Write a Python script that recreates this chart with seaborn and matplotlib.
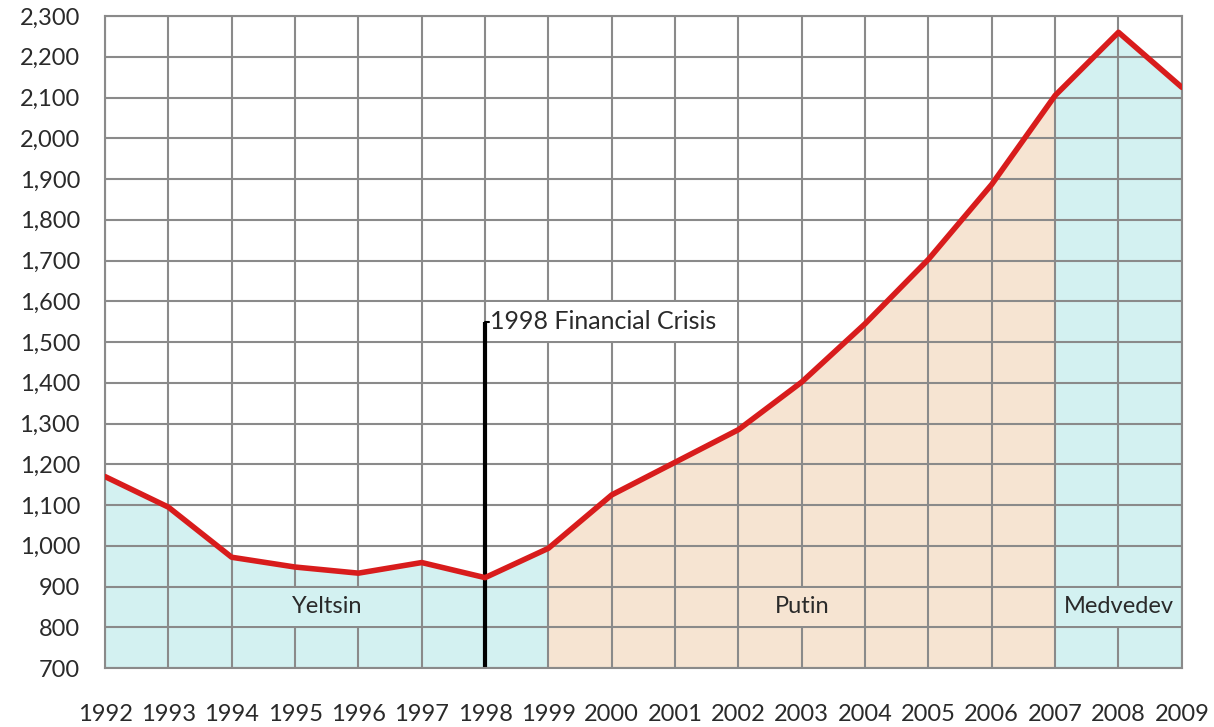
import matplotlib
matplotlib.use("Agg")
import matplotlib.pyplot as plt
from matplotlib.patches import Rectangle
from matplotlib.ticker import FuncFormatter
import seaborn as sns
import pandas as pd

# Yearly series
years = [1992, 1993, 1994, 1995, 1996, 1997, 1998, 1999, 2000,
         2001, 2002, 2003, 2004, 2005, 2006, 2007, 2008, 2009]
values = [1170, 1095, 972, 948, 933, 959, 922, 994, 1125,
          1205, 1285, 1402, 1545, 1703, 1887, 2105, 2260, 2125]

# Presidential terms: (name, start year, end year, label box start, label box end)
terms = [
    ("Yeltsin", 1992, 1999, 1994, 1997),
    ("Putin", 1999, 2007, 2002, 2004),
    ("Medvedev", 2007, 2009, 2007, 2009),
]
term_colors = {"Yeltsin": "#d3f1f1", "Putin": "#f6e4d2", "Medvedev": "#d3f1f1"}

crisis_year = 1998
crisis_level = 1550
crisis_text = "1998 Financial Crisis"

y_min, y_max, y_step = 700, 2300, 100

df = pd.DataFrame({"year": years, "value": values})

sns.set_theme(style="white")
plt.rcParams["font.family"] = ["Lato", "DejaVu Sans"]

fig = plt.figure(figsize=(12.14, 7.27), dpi=100)
ax = fig.add_axes([0.0865, 0.081, 0.887, 0.897])

grid_color = "#8a8a8a"
label_color = "#2a2a2a"
fs = 17

# Shaded areas under the curve for each term
for name, start, end, _, _ in terms:
    sub = df[(df["year"] >= start) & (df["year"] <= end)]
    ax.fill_between(sub["year"], y_min, sub["value"], color=term_colors[name],
                    linewidth=0, zorder=0.2)

# Grid
ax.set_axisbelow(True)
ax.set_xticks(years)
ax.set_yticks(list(range(y_min, y_max + 1, y_step)))
ax.grid(True, color=grid_color, linewidth=1.5)
for s in ax.spines.values():
    s.set_color(grid_color)
    s.set_linewidth(1.5)

# Term labels sitting in a cell-aligned box
label_lo, label_hi = 800, 900
for name, start, end, bx0, bx1 in terms:
    ax.add_patch(Rectangle((bx0 + 0.03, label_lo + 2.5), bx1 - bx0 - 0.06,
                           label_hi - label_lo - 5, facecolor=term_colors[name],
                           edgecolor="none", zorder=1))
    ax.text((bx0 + bx1) / 2, (label_lo + label_hi) / 2, name, ha="center",
            va="center", fontsize=fs, color=label_color, zorder=3)

# Financial crisis marker
ax.add_patch(Rectangle((crisis_year + 0.03, 1500 + 2.5), 4 - 0.06, 95,
                       facecolor="white", edgecolor="none", zorder=1))
ax.plot([crisis_year, crisis_year], [y_min, crisis_level], color="black",
        linewidth=3.0, zorder=2, solid_capstyle="butt")
ax.plot([crisis_year, crisis_year + 0.07], [crisis_level, crisis_level],
        color="black", linewidth=1.5, zorder=2)
ax.text(crisis_year + 0.08, crisis_level, crisis_text, ha="left", va="center",
        fontsize=18, color=label_color, zorder=3)

# Main series
sns.lineplot(data=df, x="year", y="value", ax=ax, color="#d81c1c",
             linewidth=4.0, zorder=4)

ax.set_xlim(years[0], years[-1])
ax.set_ylim(y_min, y_max)
ax.set_xlabel("")
ax.set_ylabel("")
ax.yaxis.set_major_formatter(FuncFormatter(lambda v, _: f"{int(v):,}"))
ax.tick_params(axis="x", length=0, pad=26, labelsize=fs, labelcolor=label_color)
ax.tick_params(axis="y", length=0, pad=18, labelsize=fs, labelcolor=label_color)

fig.savefig("out.png", dpi=100)
